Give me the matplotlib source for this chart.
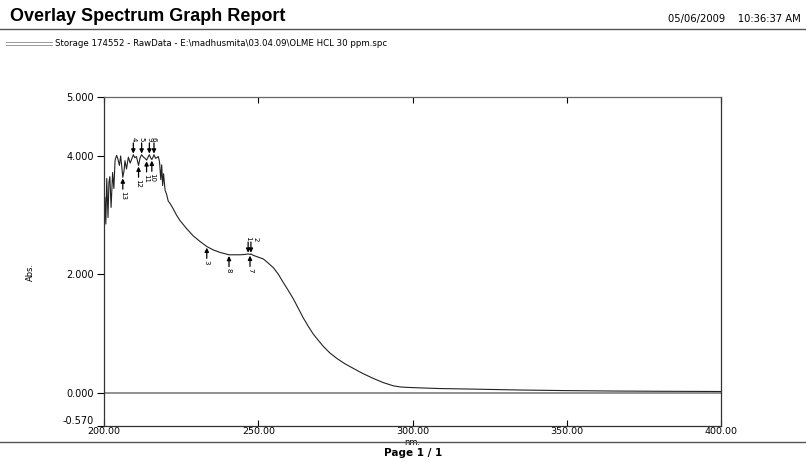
import matplotlib.pyplot as plt
from matplotlib.lines import Line2D
import numpy as np

plt.rcParams['font.family'] = ['DejaVu Sans']

# spectrum
wavelength = [200.0, 200.3, 200.6, 200.9, 201.3, 201.6, 201.9, 202.3, 202.8, 203.2,
              203.6, 204.1, 204.5, 205.0, 205.4, 205.8, 206.1, 206.5, 206.8, 207.3,
              207.9, 208.5, 209.0, 209.5, 210.0, 210.5, 211.2, 211.7, 212.2, 212.8,
              213.3, 213.8, 214.3, 214.7, 215.1, 215.5, 215.9, 216.2, 216.7, 217.1,
              217.6, 218.0, 218.4, 218.7, 219.0, 219.3, 219.8, 220.3, 220.8, 221.5,
              222.5, 223.5, 224.6, 225.7, 226.8, 228.9, 231.0, 233.3, 235.5, 237.6,
              240.5, 242.0, 244.1, 245.5, 246.7, 247.3, 247.6, 248.4, 250.0, 251.6,
              253.0, 254.9, 256.5, 258.1, 259.8, 261.4, 263.0, 264.6, 266.2, 267.8,
              269.5, 271.1, 273.2, 275.4, 278.0, 280.8, 284.0, 287.3, 290.5, 293.8,
              296.0, 298.1, 303.0, 308.9, 320.0, 335.0, 350.0, 365.0, 380.0, 400.0]
absorbance = [2.45, 3.30, 2.85, 3.62, 2.96, 3.55, 3.65, 3.13, 3.72, 3.45,
              3.93, 4.01, 3.95, 3.84, 4.00, 3.80, 3.64, 3.75, 3.92, 3.78,
              3.98, 3.88, 3.95, 4.02, 3.97, 3.99, 3.84, 3.97, 4.02, 3.98,
              3.96, 3.93, 3.98, 4.02, 3.97, 3.94, 3.98, 4.02, 3.96, 3.97,
              3.99, 3.90, 3.60, 3.85, 3.50, 3.70, 3.42, 3.35, 3.24, 3.19,
              3.10, 3.00, 2.91, 2.84, 2.77, 2.65, 2.56, 2.47, 2.41, 2.37,
              2.33, 2.33, 2.33, 2.335, 2.345, 2.335, 2.345, 2.32, 2.29, 2.26,
              2.20, 2.11, 2.00, 1.86, 1.72, 1.58, 1.42, 1.26, 1.12, 0.99,
              0.88, 0.78, 0.67, 0.58, 0.49, 0.41, 0.32, 0.24, 0.17, 0.115,
              0.097, 0.09, 0.08, 0.07, 0.06, 0.045, 0.035, 0.028, 0.024, 0.02]

# picked peaks / valleys
peak_labels = ['4', '5', '9', '6', '1', '2']
peak_wl = [209.5, 212.2, 214.7, 216.2, 246.7, 247.6]
valley_labels = ['13', '12', '11', '10', '3', '8', '7']
valley_wl = [206.1, 211.2, 213.8, 215.5, 233.3, 240.5, 247.3]

x_ticks = [200, 250, 300, 350, 400]
y_ticks = [-0.57, 0.0, 2.0, 4.0, 5.0]

fig = plt.figure(figsize=(8.06, 4.63), dpi=100)
ax = fig.add_axes([0.129, 0.079, 0.766, 0.712])

ax.axhline(0, color='#888888', lw=1.3, zorder=1)
ax.plot(wavelength, absorbance, color='#222222', lw=0.8, zorder=2)

arrow = dict(arrowstyle='-|>', color='black', lw=0.9, mutation_scale=6, shrinkA=0, shrinkB=0)
prev = None
for lab, w in zip(peak_labels, peak_wl):
    a = np.interp(w, wavelength, absorbance)
    ax.annotate('', xy=(w, a + 0.02), xytext=(w, a + 0.2), arrowprops=arrow)
    # nudge a label when two picks sit almost on top of each other
    dx = 3 if prev is not None and w - prev < 1.5 else 0
    ax.annotate(lab, xy=(w, a + 0.22), xytext=(dx, 0), textcoords='offset points',
                rotation=-90, ha='center', va='bottom', fontsize=5)
    prev = w
for lab, w in zip(valley_labels, valley_wl):
    a = np.interp(w, wavelength, absorbance)
    ax.annotate('', xy=(w, a - 0.02), xytext=(w, a - 0.2), arrowprops=arrow)
    ax.text(w, a - 0.23, lab, rotation=-90, ha='center', va='top', fontsize=5)

ax.set_xlim(200, 400)
ax.set_ylim(-0.57, 5.0)
ax.set_xticks(x_ticks)
ax.set_xticklabels(['%.2f' % t for t in x_ticks])
ax.set_yticks(y_ticks)
ax.set_yticklabels(['%.3f' % t for t in y_ticks])
ax.get_yticklabels()[0].set_va('bottom')
ax.tick_params(axis='x', direction='in', length=4, top=True, labelsize=6.8, pad=0.5, width=0.8)
ax.tick_params(axis='y', direction='out', length=5, labelsize=7, pad=2, width=0.8)
ax.set_xlabel('nm.', fontsize=6, va='top')
ax.xaxis.set_label_coords(0.5, -0.036)
ax.set_ylabel('Abs.', fontsize=6)
ax.yaxis.set_label_coords(-0.112, 0.47)
for s in ax.spines.values():
    s.set_linewidth(0.9)
    s.set_color('#333333')
ax.spines['top'].set_color('#666666')

# report header / footer
fig.text(0.012, 0.965, 'Overlay Spectrum Graph Report', family='Liberation Sans',
         fontsize=13, fontweight='bold', va='center')
fig.text(0.993, 0.958, '05/06/2009    10:36:37 AM', fontsize=7.2, ha='right', va='center')
fig.add_artist(Line2D([0, 1], [0.937, 0.937], color='#555555', lw=1.0))
fig.add_artist(Line2D([0.008, 0.065], [0.910, 0.910], color='#999999', lw=0.7))
fig.add_artist(Line2D([0.008, 0.065], [0.903, 0.903], color='#999999', lw=0.7))
fig.text(0.068, 0.906, 'Storage 174552 - RawData - E:\\madhusmita\\03.04.09\\OLME HCL 30 ppm.spc',
         fontsize=6.2, va='center')
fig.add_artist(Line2D([0, 1], [0.046, 0.046], color='#555555', lw=1.0))
fig.text(0.512, 0.022, 'Page 1 / 1', fontsize=7.5, fontweight='bold', ha='center', va='center')

fig.savefig('out.png', dpi=100)
